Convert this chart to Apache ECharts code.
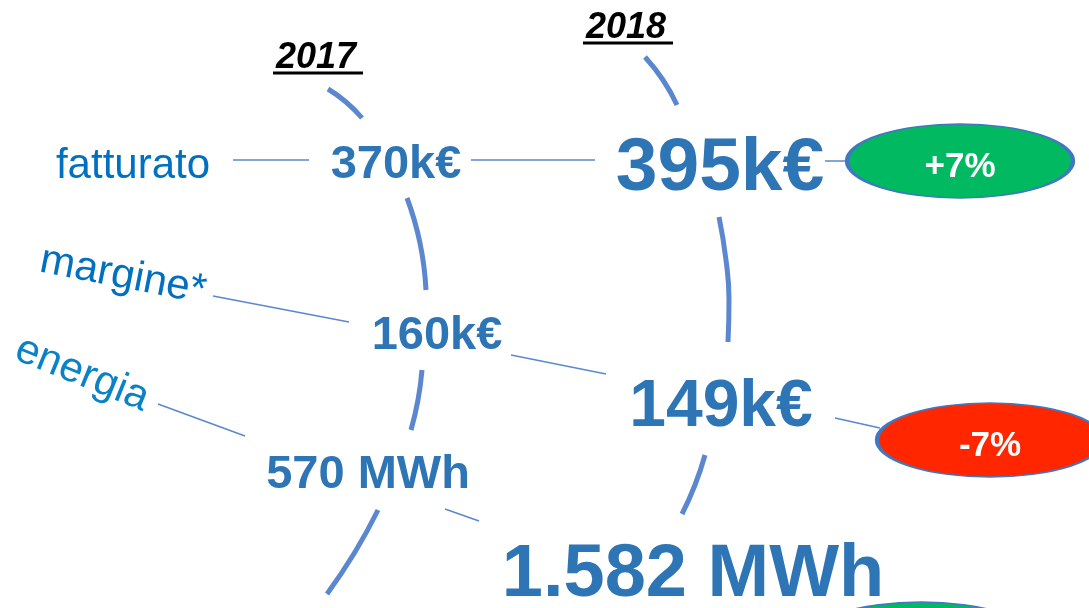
<!DOCTYPE html>
<html>
<head>
<meta charset="utf-8">
<script src="https://cdn.jsdelivr.net/npm/echarts@6/dist/echarts.min.js"></script>
<style>
  html, body { margin: 0; padding: 0; background: #fff; }
  #chart { width: 1089px; height: 608px; }
</style>
</head>
<body>
<div id="chart"></div>
<script>
// dati
var years = ['2017', '2018'];
var metrics = ['fatturato', 'margine*', 'energia'];
var units = ['k€', 'k€', ' MWh'];
var values2017 = [370, 160, 570];
var values2018 = [395, 149, 1582];
var changes = ['+7%', '-7%', ''];

// layout in pixel (x, y, fontSize / rotate)
var yearPos = [[316, 56], [626, 26]];
var underlines = [[[273, 73], [363, 73]], [[583, 43], [673, 43]]];
var metricPos = [[133, 163, 0], [123, 273, -11], [82, 371, -22]];
var metricColors = ['#0070C0', '#0070C0', '#0A82C8'];
var pos2017 = [[396, 162, 47], [437, 333, 47], [368, 472, 47]];
var pos2018 = [[720, 164, 75], [721, 404, 66], [693, 571, 74]];
var badgePos = [[960, 161], [990, 440], [921, 639]];
var badgeColors = ['#00B960', '#FF2600', '#00B960'];
var arcs = [
    [[328, 89], [346, 102], [362, 118]],
    [[407, 198], [420, 243], [426, 290]],
    [[422, 370], [418, 400], [411, 430]],
    [[378, 510], [355, 552], [327, 594]],
    [[645, 57], [663, 80], [677, 105]],
    [[719, 217], [726, 260], [729, 300], [728, 342]],
    [[705, 455], [695, 485], [682, 514]]
];
var connectors = [
    [[233, 160], [309, 160]],
    [[471, 160], [595, 160]],
    [[825, 161], [848, 161]],
    [[213, 296], [349, 322]],
    [[511, 355], [606, 374]],
    [[835, 418], [880, 428]],
    [[158, 404], [245, 436]],
    [[445, 509], [479, 521]]
];

function fmt(v) {
    return String(v).replace(/\B(?=(\d{3})+(?!\d))/g, '.')
}

var chart = echarts.init(document.getElementById('chart'))
var series = []

arcs.forEach(function (seg) {
    series.push({
        type: 'line', data: seg, smooth: true, symbol: 'none', silent: true,
        lineStyle: { color: '#5B87D0', width: 5 }
    })
})
connectors.forEach(function (seg) {
    series.push({
        type: 'line', data: seg, symbol: 'none', silent: true,
        lineStyle: { color: '#5B87D0', width: 1.5 }
    })
})
underlines.forEach(function (seg) {
    series.push({
        type: 'line', data: seg, symbol: 'none', silent: true,
        lineStyle: { color: '#000', width: 3 }
    })
})

// testo centrato sul punto; piccolo scarto verticale per allineare le maiuscole
function textItem(p, text, size, color, weight, style, rotate) {
    return {
        value: [p[0], p[1] + Math.round(size * 0.065)],
        label: {
            show: true, position: 'inside', formatter: text,
            fontSize: size, color: color, fontWeight: weight, fontStyle: style || 'normal',
            rotate: rotate || 0, align: 'center', verticalAlign: 'middle'
        }
    }
}

var texts = []
years.forEach(function (y, i) {
    texts.push(textItem(yearPos[i], y, 36, '#000', 'bold', 'italic'))
})
metrics.forEach(function (m, i) {
    texts.push(textItem(metricPos[i], m, 42, metricColors[i], 'normal', 'normal', metricPos[i][2]))
    texts.push(textItem(pos2017[i], fmt(values2017[i]) + units[i], pos2017[i][2], '#2E75B6', 'bold'))
    texts.push(textItem(pos2018[i], fmt(values2018[i]) + units[i], pos2018[i][2], '#2E75B6', 'bold'))
})

series.push({
    type: 'scatter', clip: false, silent: true, z: 5,
    symbol: 'circle', symbolSize: [226, 74],
    data: changes.map(function (c, i) {
        return {
            value: badgePos[i],
            itemStyle: { color: badgeColors[i], borderColor: '#3F78C0', borderWidth: 2.5, opacity: 1 },
            label: {
                show: true, formatter: c, position: 'inside', offset: [0, 6],
                color: '#fff', fontSize: 35, fontWeight: 'bold'
            }
        }
    })
})
series.push({
    type: 'scatter', clip: false, silent: true, z: 6,
    symbolSize: 0, itemStyle: { opacity: 1 }, data: texts
})

var option = {
    animation: false,
    backgroundColor: '#fff',
    textStyle: { fontFamily: 'Liberation Sans, Arial, sans-serif' },
    grid: { left: 0, right: 0, top: 0, bottom: 0 },
    xAxis: { type: 'value', min: 0, max: 1089, show: false },
    yAxis: { type: 'value', min: 0, max: 608, inverse: true, show: false },
    series: series
}
chart.setOption(option)
</script>
</body>
</html>
